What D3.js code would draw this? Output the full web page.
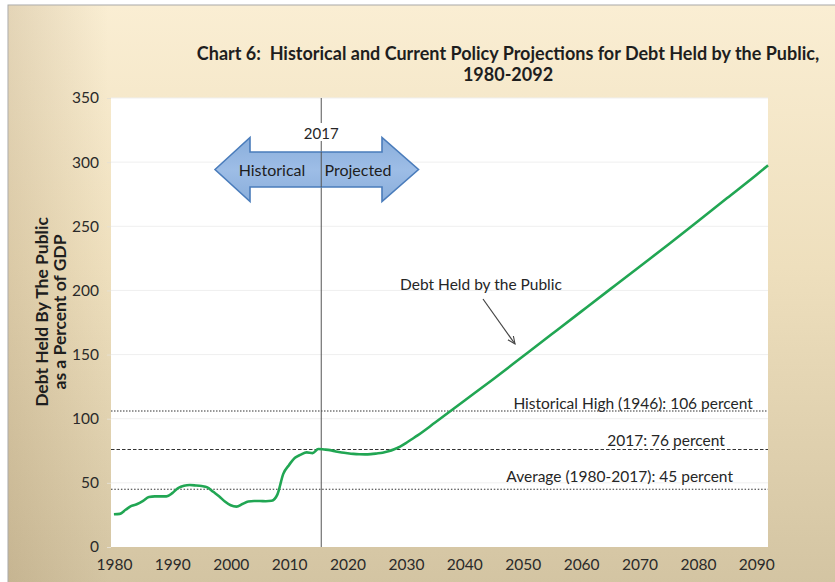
<!DOCTYPE html>
<html>
<head>
<meta charset="utf-8">
<script src="https://cdn.jsdelivr.net/npm/d3@7"></script>
<style>
  body { margin: 0; background: #fff; }
  svg { display: block; font-family: Lato, "Open Sans", sans-serif; }
  .pre { white-space: pre; }
</style>
</head>
<body>
<svg id="chart" width="835" height="582"></svg>
<script>
// historical debt held by the public, % of GDP
const histYears = [1980, 1981, 1982, 1983, 1984, 1985, 1986, 1987, 1988, 1989,
  1990, 1991, 1992, 1993, 1994, 1995, 1996, 1997, 1998, 1999,
  2000, 2001, 2002, 2003, 2004, 2005, 2006, 2007, 2008, 2009,
  2010, 2011, 2012, 2013, 2014, 2015, 2016, 2017]
const histValues = [25.5, 25.8, 29, 32, 33.5, 36, 39, 39.5, 39.5, 39.5,
  42, 46, 47.8, 48.3, 48, 47.5, 46.5, 43, 39.5, 35.5,
  32.5, 31.5, 33.5, 35.5, 35.8, 35.8, 35.7, 36, 41, 57,
  64, 69.5, 72, 73.8, 73.2, 76.4, 76, 75.5]

// projection
const projYears = [2018, 2019, 2020, 2021, 2022, 2023, 2024, 2025, 2026, 2027,
  2028, 2029, 2030, 2031, 2032, 2035, 2040, 2045, 2050, 2055,
  2060, 2065, 2070, 2075, 2080, 2085, 2090, 2092]
const projValues = [74.5, 73.7, 73.1, 72.6, 72.3, 72.2, 72.4, 72.9, 73.5, 74.6,
  76.2, 78.3, 81, 84, 87, 97, 114, 131, 148.5, 166,
  183.5, 201, 218.5, 236, 254, 272, 290, 297.5]

const xTicks = [1980, 1990, 2000, 2010, 2020, 2030, 2040, 2050, 2060, 2070, 2080, 2090]
const yTicks = [0, 50, 100, 150, 200, 250, 300, 350]

const refValues = [106, 76, 45]
const refLabels = ['Historical High (1946): 106 percent', '2017: 76 percent', 'Average (1980-2017): 45 percent']

const dividerYear = 2015.5
const dividerLabel = '2017'

// layout / style bits
const refDash = ['1.5,1.5', '3.5,2', '1.5,1.8']
const refLabelEnd = [2089.4, 2084.6, 2086]
const refLabelDy = [-2.5, -4, -7.5]

const margin = {top: 98, right: 67, bottom: 35, left: 111}
const width = 835, height = 582
const w = width - margin.left - margin.right
const h = height - margin.top - margin.bottom

const svg = d3.select('#chart')
const defs = svg.append('defs')

const bgGrad = defs.append('linearGradient').attr('id', 'bg')
  .attr('x1', 0).attr('y1', 0).attr('x2', 0).attr('y2', 1)
bgGrad.append('stop').attr('offset', 0).attr('stop-color', '#faeed3')
bgGrad.append('stop').attr('offset', 0.45).attr('stop-color', '#eedfbd')
bgGrad.append('stop').attr('offset', 1).attr('stop-color', '#d3c4a2')

const leftGrad = defs.append('linearGradient').attr('id', 'bgleft')
  .attr('x1', 0).attr('y1', 0).attr('x2', 1).attr('y2', 0)
leftGrad.append('stop').attr('offset', 0).attr('stop-color', 'rgba(150,125,85,0.22)')
leftGrad.append('stop').attr('offset', 0.12).attr('stop-color', 'rgba(150,125,85,0)')

const arrowGrad = defs.append('linearGradient').attr('id', 'arrowfill')
  .attr('x1', 0).attr('y1', 0).attr('x2', 0).attr('y2', 1)
arrowGrad.append('stop').attr('offset', 0).attr('stop-color', '#8aaedb')
arrowGrad.append('stop').attr('offset', 0.5).attr('stop-color', '#9dbde6')
arrowGrad.append('stop').attr('offset', 1).attr('stop-color', '#8aaedb')

defs.append('marker').attr('id', 'head')
  .attr('viewBox', '0 0 10 10').attr('refX', 9).attr('refY', 5)
  .attr('markerWidth', 7).attr('markerHeight', 7).attr('orient', 'auto')
  .append('path').attr('d', 'M0,1 L9,5 L0,9').attr('fill', 'none')
  .attr('stroke', '#444').attr('stroke-width', 1.3)

// chart frame
svg.append('rect').attr('x', 8).attr('y', 5).attr('width', width).attr('height', height)
  .attr('fill', 'url(#bg)').attr('stroke', '#a8a8a8')
svg.append('rect').attr('x', 8.5).attr('y', 5.5).attr('width', width).attr('height', height)
  .attr('fill', 'url(#bgleft)')

// title
const title = svg.append('text').attr('class', 'pre').attr('text-anchor', 'middle')
  .attr('font-weight', 'bold').attr('font-size', 18).attr('fill', '#1e1e1e')
title.append('tspan').attr('x', 508).attr('y', 60)
  .text('Chart 6:  Historical and Current Policy Projections for Debt Held by the Public,')
title.append('tspan').attr('x', 508).attr('y', 81).text('1980-2092')

const x = d3.scaleLinear().domain([1979.5, 2092]).range([0, w])
const y = d3.scaleLinear().domain([0, 350]).range([h, 0])

const g = svg.append('g').attr('transform', `translate(${margin.left},${margin.top})`)

g.append('rect').attr('width', w).attr('height', h).attr('fill', '#fff')

// faint gridlines
g.selectAll('.grid').data(yTicks.slice(1)).enter()
  .append('line').attr('class', 'grid')
  .attr('x1', 0).attr('x2', w)
  .attr('y1', d => y(d)).attr('y2', d => y(d))
  .attr('stroke', '#efefef')

const yAxis = d3.axisLeft(y).tickValues(yTicks).tickSize(4).tickPadding(8)
const ya = g.append('g').call(yAxis)
ya.select('.domain').remove()
ya.selectAll('line').attr('stroke', '#e6e0d2')
ya.selectAll('text').attr('font-size', 15.5).attr('fill', '#2a2a2a')
  .attr('font-family', 'Lato, sans-serif')

const xAxis = d3.axisBottom(x).tickValues(xTicks).tickFormat(d3.format('d')).tickSize(0).tickPadding(12)
const xa = g.append('g').attr('transform', `translate(0,${h})`).call(xAxis)
xa.select('.domain').remove()
xa.selectAll('text').attr('font-size', 15.5).attr('fill', '#2a2a2a')
  .attr('font-family', 'Lato, sans-serif')

// y axis title
const yt = svg.append('text').attr('transform', 'translate(0,312) rotate(-90)')
  .attr('text-anchor', 'middle').attr('font-weight', 'bold').attr('font-size', 17.5).attr('fill', '#1e1e1e')
yt.append('tspan').attr('x', 0).attr('y', 48).text('Debt Held By The Public')
yt.append('tspan').attr('x', 0).attr('y', 66).text('as a Percent of GDP')

// reference lines
refValues.forEach((v, i) => {
  g.append('line')
    .attr('x1', 0).attr('x2', w)
    .attr('y1', y(v)).attr('y2', y(v))
    .attr('stroke', '#333').attr('stroke-width', 1.2)
    .attr('stroke-dasharray', refDash[i])
  g.append('text')
    .attr('x', x(refLabelEnd[i])).attr('y', y(v) + refLabelDy[i])
    .attr('text-anchor', 'end').attr('font-size', 15.5).attr('fill', '#262626')
    .text(refLabels[i])
})

// 2017 divider
const xd = x(dividerYear)
g.append('line').attr('x1', xd).attr('x2', xd).attr('y1', 0).attr('y2', h)
  .attr('stroke', '#555').attr('stroke-width', 1)
g.append('rect').attr('x', xd - 18).attr('y', 25).attr('width', 36).attr('height', 18).attr('fill', '#fff')
g.append('text').attr('x', xd).attr('y', 41).attr('text-anchor', 'middle')
  .attr('font-size', 15).attr('fill', '#262626').text(dividerLabel)

// double block arrow
const ax0 = 215 - margin.left, ax1 = 418.5 - margin.left
const hb0 = 250 - margin.left, hb1 = 382 - margin.left
const acy = 169.5 - margin.top
const arrowPts = [[ax0, acy], [hb0, acy - 32], [hb0, acy - 17.5], [hb1, acy - 17.5], [hb1, acy - 32],
  [ax1, acy], [hb1, acy + 32], [hb1, acy + 17.5], [hb0, acy + 17.5], [hb0, acy + 32]]
g.append('path').attr('d', d3.line()(arrowPts) + 'Z')
  .attr('fill', 'url(#arrowfill)').attr('stroke', '#4a7cbb').attr('stroke-width', 1.6)
g.append('line').attr('x1', xd).attr('x2', xd).attr('y1', acy - 17.5).attr('y2', acy + 17.5)
  .attr('stroke', '#555').attr('stroke-width', 1)
g.append('text').attr('x', 272 - margin.left).attr('y', acy + 6).attr('text-anchor', 'middle')
  .attr('font-size', 16).attr('fill', '#1e1e1e').text('Historical')
g.append('text').attr('x', 358 - margin.left).attr('y', acy + 6).attr('text-anchor', 'middle')
  .attr('font-size', 16).attr('fill', '#1e1e1e').text('Projected')

// debt line
const allYears = histYears.concat(projYears)
const allValues = histValues.concat(projValues)
const series = allYears.map((yr, i) => ({year: yr, value: allValues[i]}))

const line = d3.line()
  .x(d => x(d.year))
  .y(d => y(d.value))
  .curve(d3.curveMonotoneX)

g.append('path').datum(series)
  .attr('d', line)
  .attr('fill', 'none')
  .attr('stroke', '#21a653')
  .attr('stroke-width', 2.6)

// label + pointer
g.append('text').attr('x', 481 - margin.left).attr('y', 290 - margin.top)
  .attr('text-anchor', 'middle').attr('font-size', 15.5).attr('fill', '#262626')
  .text('Debt Held by the Public')
g.append('line')
  .attr('x1', 483 - margin.left).attr('y1', 299 - margin.top)
  .attr('x2', 515 - margin.left).attr('y2', 344 - margin.top)
  .attr('stroke', '#444').attr('stroke-width', 1.2)
  .attr('marker-end', 'url(#head)')
</script>
</body>
</html>
